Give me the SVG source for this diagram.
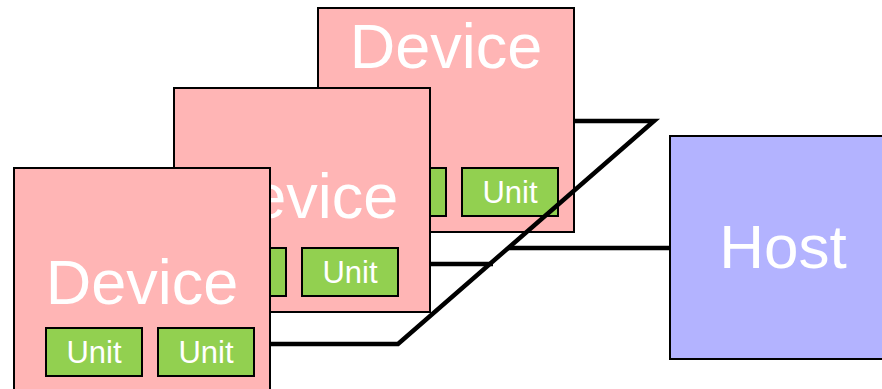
<svg xmlns="http://www.w3.org/2000/svg" width="882" height="389" viewBox="0 0 882 389">
<style>
.dev{fill:#FFB5B5;stroke:#000;stroke-width:2}
.unit{fill:#92D050;stroke:#000;stroke-width:2}
.host{fill:#B3B3FF;stroke:#000;stroke-width:2}
.big{font-family:"Liberation Sans",Arial,sans-serif;font-size:63px;fill:#fff;text-anchor:middle}
.ut{font-family:"Liberation Sans",Arial,sans-serif;font-size:31px;fill:#fff;text-anchor:middle}
.conn{fill:none;stroke:#000;stroke-width:4.5}
</style>
<rect width="882" height="389" fill="#fff"/>
<g id="device3">
<rect class="dev" x="318" y="8" width="256" height="224"/>
<text class="big" x="446" y="68">Device</text>
<rect class="unit" x="350" y="168" width="96" height="48"/>
<rect class="unit" x="462" y="168" width="96" height="48"/>
<text class="ut" x="510" y="203">Unit</text>
</g>
<g id="device2">
<rect class="dev" x="174" y="88" width="256" height="224"/>
<text class="big" x="302" y="218">Device</text>
<rect class="unit" x="190" y="248" width="96" height="48"/>
<rect class="unit" x="302" y="248" width="96" height="48"/>
<text class="ut" x="350" y="283">Unit</text>
</g>
<g id="device1">
<rect class="dev" x="14" y="168" width="256" height="230"/>
<text class="big" x="142" y="304">Device</text>
<rect class="unit" x="46" y="328" width="96" height="48"/>
<text class="ut" x="94" y="363">Unit</text>
<rect class="unit" x="158" y="328" width="96" height="48"/>
<text class="ut" x="206" y="363">Unit</text>
</g>
<g id="host">
<rect class="host" x="670" y="136" width="226" height="223"/>
<text class="ut" style="font-size:62px" x="783" y="268">Host</text>
</g>
<g id="connectors">
<polyline class="conn" points="574,121 654,121 398,344 270,344"/>
<line class="conn" x1="508" y1="248" x2="670" y2="248"/>
<line class="conn" x1="430" y1="264" x2="493" y2="264"/>
</g>
</svg>
